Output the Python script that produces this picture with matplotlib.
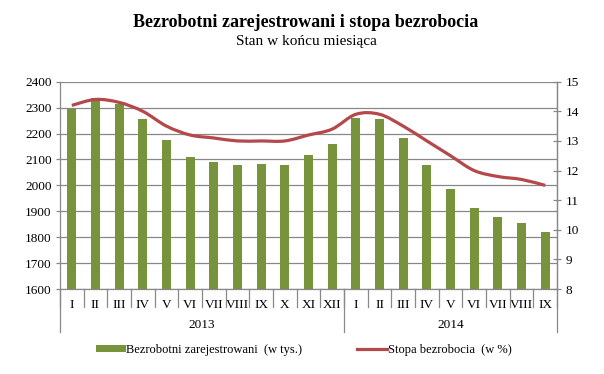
import numpy as np
import matplotlib
matplotlib.use("Agg")
import matplotlib.pyplot as plt
import matplotlib.transforms as mtransforms
from matplotlib.lines import Line2D
from matplotlib.patches import Patch, PathPatch
from matplotlib.path import Path

plt.rcParams['font.family'] = ['Liberation Serif', 'DejaVu Serif']

months_2013 = ["I", "II", "III", "IV", "V", "VI", "VII", "VIII", "IX", "X", "XI", "XII"]
months_2014 = ["I", "II", "III", "IV", "V", "VI", "VII", "VIII", "IX"]
years = ["2013", "2014"]

# registered unemployed, thousands
unemployed = [2295.7, 2336.7, 2315.1, 2254.5, 2176.2, 2110.4, 2090.3, 2080.2, 2083.2, 2077.0, 2118.1, 2157.9,
              2260.7, 2255.7, 2182.2, 2079.1, 1987.8, 1911.8, 1878.8, 1856.2, 1821.9]
# unemployment rate, %
rate = [14.2, 14.4, 14.3, 14.0, 13.5, 13.2, 13.1, 13.0, 13.0, 13.0, 13.2, 13.4,
        13.9, 13.9, 13.5, 13.0, 12.5, 12.0, 11.8, 11.7, 11.5]

bar_color = "#77933C"
line_color = "#B5484A"
grid_color = "#888888"


def smooth_path(xs, ys):
    # excel-like smoothed line: cubic bezier through every point
    pts = np.column_stack([xs, ys]).astype(float)
    n = len(pts)
    verts = [pts[0]]
    codes = [Path.MOVETO]
    for i in range(n - 1):
        p0 = pts[max(i - 1, 0)]
        p1 = pts[i]
        p2 = pts[i + 1]
        p3 = pts[min(i + 2, n - 1)]
        c1 = p1 + (p2 - p0) / 6.0
        c2 = p2 - (p3 - p1) / 6.0
        verts += [c1, c2, p2]
        codes += [Path.CURVE4] * 3
    return Path(verts, codes)


labels = months_2013 + months_2014
x = np.arange(len(labels))

fig = plt.figure(figsize=(6.04, 3.74), dpi=100)
ax = fig.add_axes([0.0993, 0.227, 0.823, 0.5546])
ax2 = ax.twinx()

ax.bar(x, unemployed, width=0.38, color=bar_color, zorder=2)
ax.set_ylim(1600, 2400)
ax.set_yticks(np.arange(1600, 2401, 100))
ax.set_xlim(-0.5, len(labels) - 0.5)
ax.yaxis.grid(True, color=grid_color, linewidth=0.9)
ax.set_axisbelow(True)

ax2.add_patch(PathPatch(smooth_path(x, rate), facecolor='none', edgecolor=line_color,
                        linewidth=2.3, capstyle='butt', zorder=3))
ax2.set_ylim(8, 15)
ax2.set_yticks(np.arange(8, 16, 1))

for a in (ax, ax2):
    a.spines['top'].set_visible(False)
    for s in ('left', 'right', 'bottom'):
        a.spines[s].set_color(grid_color)
        a.spines[s].set_linewidth(0.9)
    a.tick_params(axis='y', labelsize=9.5, colors=grid_color, labelcolor='black', length=3, width=0.9)
ax.tick_params(axis='y', pad=3)
ax2.tick_params(axis='y', direction='inout', length=6, pad=3)
ax2.spines['left'].set_visible(False)
ax2.spines['bottom'].set_visible(False)

ax.set_xticks(x)
ax.set_xticklabels(labels, fontsize=9.5)
ax.tick_params(axis='x', length=0, pad=7)

# category separators below the axis
trans = mtransforms.blended_transform_factory(ax.transData, ax.transAxes)
month_bounds = np.arange(len(labels) + 1) - 0.5
year_bounds = [-0.5, len(months_2013) - 0.5, len(labels) - 0.5]
for b in month_bounds:
    ax.plot([b, b], [0, -0.087], transform=trans, color=grid_color, linewidth=0.9, clip_on=False)
for b in year_bounds:
    ax.plot([b, b], [0, -0.207], transform=trans, color=grid_color, linewidth=0.9, clip_on=False)
year_centers = [(year_bounds[0] + year_bounds[1]) / 2, (year_bounds[1] + year_bounds[2]) / 2]
for yc, yl in zip(year_centers, years):
    ax.text(yc, -0.172, yl, transform=trans, ha='center', va='center', fontsize=9.5)

fig.text(0.506, 0.94, "Bezrobotni zarejestrowani i stopa bezrobocia", ha='center', va='center',
         fontsize=13, fontweight='bold')
fig.text(0.507, 0.888, "Stan w końcu miesiąca", ha='center', va='center', fontsize=11)

handles = [Patch(color=bar_color, linewidth=0), Line2D([0], [0], color=line_color, linewidth=2.3)]
fig.legend(handles, ["Bezrobotni zarejestrowani  (w tys.)", "Stopa bezrobocia  (w %)"],
           loc='center', bbox_to_anchor=(0.503, 0.064), ncol=2, frameon=False, fontsize=9,
           handlelength=2.4, handleheight=0.5, handletextpad=0.05, columnspacing=4.4)

fig.savefig("out.png", dpi=100)
